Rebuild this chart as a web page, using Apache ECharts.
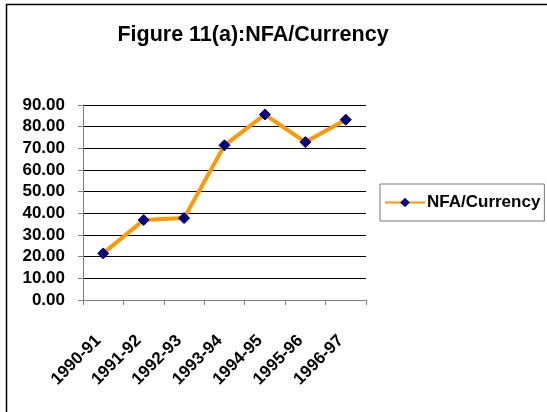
<!DOCTYPE html>
<html>
<head>
<meta charset="utf-8">
<script src="https://cdn.jsdelivr.net/npm/echarts@6/dist/echarts.min.js"></script>
<style>
  html, body { margin: 0; padding: 0; background: #fff; }
  #chart { width: 547px; height: 412px; }
</style>
</head>
<body>
<div id="chart"></div>
<script>
var years = ['1990-91', '1991-92', '1992-93', '1993-94', '1994-95', '1995-96', '1996-97'];
var nfaCurrency = [21.5, 36.9, 37.8, 71.4, 85.6, 72.9, 83.2];

var chartDom = document.getElementById('chart');
var myChart = echarts.init(chartDom, null, { renderer: 'canvas' });
var fontFam = '"Liberation Sans", Arial, sans-serif';

var option = {
  animation: false,
  backgroundColor: '#fff',
  title: {
    text: 'Figure 11(a):NFA/Currency',
    left: 248,
    textAlign: 'center',
    top: 19,
    textStyle: { fontFamily: fontFam, fontSize: 21.5, fontWeight: 'bold', color: '#000' }
  },
  graphic: [{
    type: 'rect',
    shape: { x: 6.5, y: 4.5, width: 600, height: 500 },
    style: { fill: 'none', stroke: '#000', lineWidth: 1.5 },
    silent: true
  }],
  legend: {
    data: ['NFA/Currency'],
    left: 380,
    top: 184,
    padding: [10, 4, 10, 4],
    borderColor: '#777',
    borderWidth: 1,
    itemWidth: 40,
    itemHeight: 12,
    itemGap: 2,
    textStyle: { fontFamily: fontFam, fontSize: 17, fontWeight: 'bold', color: '#000', padding: [0, 0, 0, -3] }
  },
  grid: { left: 83, top: 105, right: 181, bottom: 112, containLabel: false },
  xAxis: {
    type: 'category',
    data: years,
    boundaryGap: true,
    axisLine: { lineStyle: { color: '#808080', width: 1 } },
    axisTick: { show: true, length: 5, lineStyle: { color: '#808080' } },
    axisLabel: {
      rotate: 45,
      margin: 33,
      padding: [0, 7, 0, 0],
      fontFamily: fontFam, fontSize: 17, fontWeight: 'bold', color: '#000'
    }
  },
  yAxis: {
    type: 'value',
    min: 0,
    max: 90,
    interval: 10,
    axisLine: { show: true, lineStyle: { color: '#808080', width: 1 } },
    axisTick: { show: true, length: 5, inside: false, lineStyle: { color: '#808080' } },
    splitLine: { show: true, lineStyle: { color: '#000', width: 1 } },
    axisLabel: {
      margin: 18,
      formatter: function (v) { return v.toFixed(2); },
      fontFamily: fontFam, fontSize: 17, fontWeight: 'bold', color: '#000'
    }
  },
  series: [{
    name: 'NFA/Currency',
    type: 'line',
    data: nfaCurrency,
    lineStyle: { color: '#FF9900', width: 4 },
    itemStyle: { color: '#000080', borderColor: '#000080' },
    symbol: 'diamond',
    symbolSize: 11,
    z: 3
  }]
};

option && myChart.setOption(option);
</script>
</body>
</html>
